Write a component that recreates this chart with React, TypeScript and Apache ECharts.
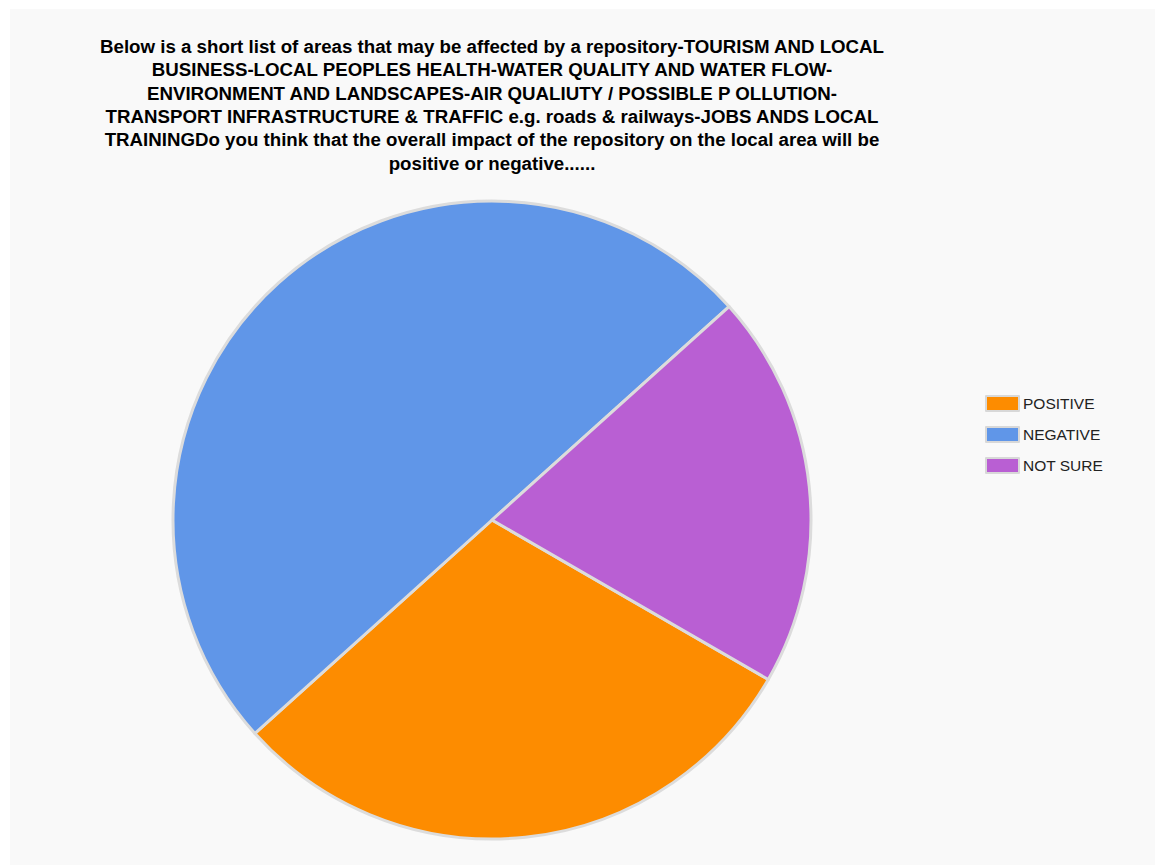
import React, { useEffect, useRef } from "react";
import * as echarts from "echarts";

const categories = ["POSITIVE", "NEGATIVE", "NOT SURE"];
const values = [3, 5, 2];
const colors = ["#fd8c00", "#6096e8", "#b95fd3"];
const titleLines = [
  "Below is a short list of areas that may be affected by a repository-TOURISM AND LOCAL",
  "BUSINESS-LOCAL PEOPLES HEALTH-WATER QUALITY AND WATER FLOW-",
  "ENVIRONMENT AND LANDSCAPES-AIR QUALIUTY / POSSIBLE P OLLUTION-",
  "TRANSPORT INFRASTRUCTURE & TRAFFIC e.g. roads & railways-JOBS ANDS LOCAL",
  "TRAININGDo you think that the overall impact of the repository on the local area will be",
  "positive or negative......",
];

export default function App() {
  const ref = useRef<HTMLDivElement>(null);
  useEffect(() => {
    if (!ref.current) return;
    const chart = echarts.init(ref.current, undefined, { renderer: "svg" });
    chart.setOption({
      animation: false,
      backgroundColor: "#f9f9f9",
      graphic: [
        {
          type: "text",
          x: 482,
          y: 26,
          style: {
            text: titleLines.join("\n"),
            textAlign: "center",
            fontFamily: "Liberation Sans, Arial, sans-serif",
            fontWeight: "bold",
            fontSize: 18.7,
            lineHeight: 23.3,
            fill: "#000",
          },
        },
      ],
      legend: {
        orient: "vertical",
        left: 970,
        top: 381,
        itemWidth: 33,
        itemHeight: 15,
        itemGap: 14,
        icon: "rect",
        selectedMode: false,
        itemStyle: { borderColor: "#d8d8d8", borderWidth: 2 },
        textStyle: {
          fontFamily: "Liberation Sans, Arial, sans-serif",
          fontSize: 15.5,
          color: "#222",
          padding: [0, 0, 0, -1],
        },
        data: categories,
      },
      series: [
        {
          type: "pie",
          center: [482, 511],
          radius: 319,
          startAngle: -30,
          clockwise: true,
          label: { show: false },
          labelLine: { show: false },
          emphasis: { disabled: true },
          itemStyle: { borderColor: "#dcdcdc", borderWidth: 3 },
          data: categories.map((name, i) => ({
            name,
            value: values[i],
            itemStyle: { color: colors[i] },
          })),
        },
      ],
    });
    return () => chart.dispose();
  }, []);
  return (
    <div
      ref={ref}
      style={{ position: "absolute", left: 10, top: 9, width: 1145, height: 856 }}
    />
  );
}
